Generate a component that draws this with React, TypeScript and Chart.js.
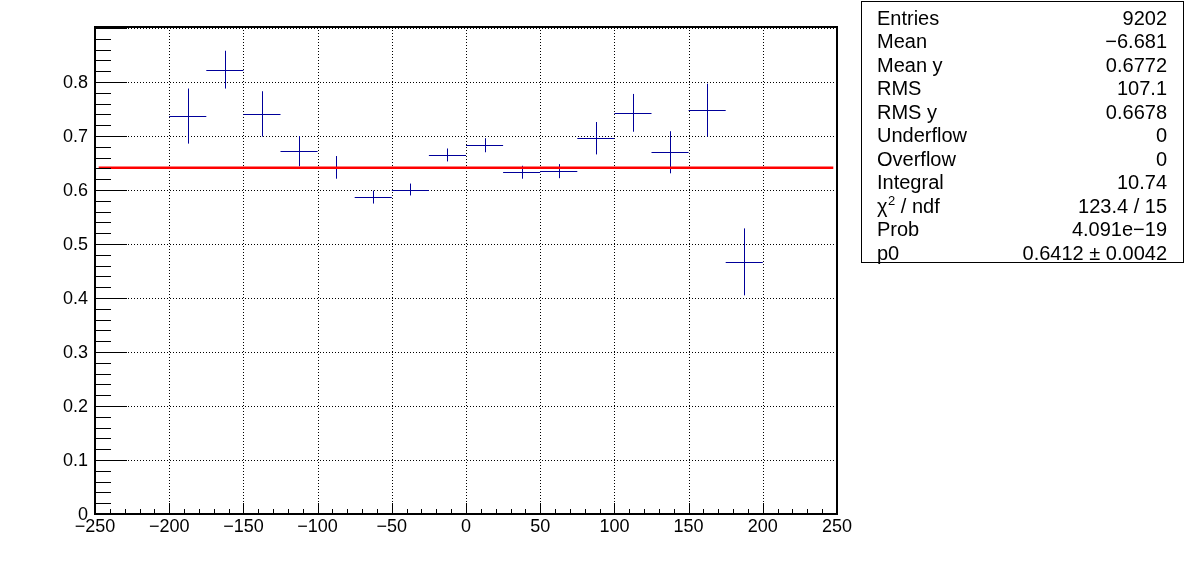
import React, { useEffect, useRef } from "react";
import { Chart, registerables } from "chart.js";

Chart.register(...registerables);

// ---- data ----
const binCenters = [-187.5, -162.5, -137.5, -112.5, -87.5, -62.5, -37.5, -12.5, 12.5, 37.5, 62.5, 87.5, 112.5, 137.5, 162.5, 187.5];
const binHalfWidth = [12.5, 12.5, 12.5, 12.5, 12.5, 12.5, 12.5, 12.5, 12.5, 12.5, 12.5, 12.5, 12.5, 12.5, 12.5, 12.5];
const binValues = [0.737, 0.823, 0.741, 0.672, 0.642, 0.587, 0.601, 0.665, 0.683, 0.633, 0.635, 0.696, 0.743, 0.670, 0.748, 0.467];
const binErrors = [0.051, 0.035, 0.042, 0.028, 0.021, 0.012, 0.011, 0.012, 0.013, 0.012, 0.013, 0.030, 0.035, 0.039, 0.049, 0.062];
const fitValue = 0.6412;
const fitRange = [-247.5, 247.5];

const xMin = -250;
const xMax = 250;
const xMajorStep = 50;
const xMinorStep = 10;
const yMin = 0;
const yMax = 0.902;
const yMajorStep = 0.1;
const yMinorStep = 0.02;

const statLabels = ["Entries", "Mean", "Mean y", "RMS", "RMS y", "Underflow", "Overflow", "Integral", "CHI2", "Prob", "p0"];
const statValues = ["9202", "\u22126.681", "0.6772", "107.1", "0.6678", "0", "0", "10.74", "123.4 / 15", "4.091e\u221219", "0.6412 \u00b1 0.0042"];

const FONT = "'Liberation Sans', Arial, Helvetica, sans-serif";
const MARK_COLOR = "#00009a";

const fmtX = (v: number) => (v < 0 ? "\u2212" + Math.abs(v) : String(v));
const fmtY = (v: number) => (Math.abs(v) < 1e-9 ? "0" : v.toFixed(1));

const rootPlugin = {
  id: "rootStyle",
  beforeDraw(chart: any) {
    const ctx = chart.ctx;
    ctx.save();
    ctx.fillStyle = "#ffffff";
    ctx.fillRect(0, 0, chart.width, chart.height);
    ctx.restore();
  },
  beforeDatasetsDraw(chart: any) {
    const ctx = chart.ctx;
    const xs = chart.scales.x;
    const ys = chart.scales.y;
    const a = chart.chartArea;
    ctx.save();
    // grid
    ctx.strokeStyle = "#000000";
    ctx.lineWidth = 1;
    ctx.setLineDash([1, 2]);
    for (let v = xMin + xMajorStep; v < xMax; v += xMajorStep) {
      const px = Math.round(xs.getPixelForValue(v)) + 0.5;
      ctx.beginPath();
      ctx.moveTo(px, a.top);
      ctx.lineTo(px, a.bottom);
      ctx.stroke();
    }
    for (let i = 1; i * yMajorStep < yMax; i++) {
      const py = Math.round(ys.getPixelForValue(i * yMajorStep)) + 0.5;
      ctx.beginPath();
      ctx.moveTo(a.left, py);
      ctx.lineTo(a.right, py);
      ctx.stroke();
    }
    ctx.setLineDash([]);
    // error bars
    ctx.strokeStyle = MARK_COLOR;
    ctx.lineWidth = 1;
    for (let i = 0; i < binCenters.length; i++) {
      const cx = Math.round(xs.getPixelForValue(binCenters[i])) + 0.5;
      const cy = Math.round(ys.getPixelForValue(binValues[i])) + 0.5;
      const x0 = xs.getPixelForValue(binCenters[i] - binHalfWidth[i]);
      const x1 = xs.getPixelForValue(binCenters[i] + binHalfWidth[i]);
      const y0 = ys.getPixelForValue(binValues[i] - binErrors[i]);
      const y1 = ys.getPixelForValue(binValues[i] + binErrors[i]);
      ctx.beginPath();
      ctx.moveTo(x0, cy);
      ctx.lineTo(x1, cy);
      ctx.moveTo(cx, y0);
      ctx.lineTo(cx, y1);
      ctx.stroke();
    }
    ctx.restore();
  },
  afterDatasetsDraw(chart: any) {
    const ctx = chart.ctx;
    const xs = chart.scales.x;
    const ys = chart.scales.y;
    const a = chart.chartArea;
    ctx.save();
    ctx.strokeStyle = "#000000";
    ctx.lineWidth = 1;
    // x ticks
    const nx = Math.round((xMax - xMin) / xMinorStep);
    for (let i = 0; i <= nx; i++) {
      const v = xMin + i * xMinorStep;
      const major = Math.abs(v / xMajorStep - Math.round(v / xMajorStep)) < 1e-9;
      const len = major ? 11 : 5;
      const px = Math.round(xs.getPixelForValue(v)) + 0.5;
      ctx.beginPath();
      ctx.moveTo(px, a.bottom);
      ctx.lineTo(px, a.bottom - len);
      ctx.stroke();
    }
    // y ticks
    const ny = Math.floor((yMax - yMin) / yMinorStep + 1e-9);
    for (let i = 0; i <= ny; i++) {
      const v = yMin + i * yMinorStep;
      const major = i % 5 === 0;
      const len = major ? 32 : 16;
      const py = Math.round(ys.getPixelForValue(v)) + 0.5;
      ctx.beginPath();
      ctx.moveTo(a.left, py);
      ctx.lineTo(a.left + len, py);
      ctx.stroke();
    }
    // frame
    ctx.lineWidth = 2;
    ctx.strokeRect(a.left, a.top, a.right - a.left, a.bottom - a.top);
    ctx.restore();
  },
  afterDraw(chart: any) {
    const ctx = chart.ctx;
    ctx.save();
    const bx = 861.5, by = 1.5, bw = 322, bh = 261;
    ctx.fillStyle = "#ffffff";
    ctx.fillRect(bx, by, bw, bh);
    ctx.strokeStyle = "#000000";
    ctx.lineWidth = 1;
    ctx.strokeRect(bx, by, bw, bh);
    ctx.fillStyle = "#000000";
    ctx.textBaseline = "alphabetic";
    const size = 20;
    for (let i = 0; i < statLabels.length; i++) {
      const base = 24.5 + i * 23.5;
      ctx.font = `${size}px ${FONT}`;
      ctx.textAlign = "left";
      const lab = statLabels[i];
      if (lab === "CHI2") {
        let x = 877;
        ctx.fillText("\u03c7", x, base);
        x += ctx.measureText("\u03c7").width;
        ctx.font = `${Math.round(size * 0.65)}px ${FONT}`;
        ctx.fillText("2", x + 0.5, base - 8);
        x += ctx.measureText("2").width + 0.5;
        ctx.font = `${size}px ${FONT}`;
        ctx.fillText(" / ndf", x, base);
      } else {
        ctx.fillText(lab, 877, base);
      }
      ctx.textAlign = "right";
      ctx.fillText(statValues[i], 1167, base);
    }
    ctx.restore();
  },
};

export default function App() {
  const ref = useRef<HTMLCanvasElement | null>(null);
  useEffect(() => {
    if (!ref.current) return;
    const chart = new Chart(ref.current, {
      type: "scatter",
      data: {
        datasets: [
          {
            label: "hist",
            data: binCenters.map((x, i) => ({ x, y: binValues[i] })),
            pointRadius: 0,
            showLine: false,
          },
          {
            label: "fit",
            type: "line",
            data: fitRange.map((x) => ({ x, y: fitValue })),
            borderColor: "#ff0000",
            borderWidth: 2.5,
            pointRadius: 0,
            fill: false,
          } as any,
        ],
      },
      options: {
        animation: false,
        responsive: false,
        devicePixelRatio: 1,
        layout: { padding: { top: 27, left: 0, right: 359, bottom: 0 } },
        plugins: { legend: { display: false }, tooltip: { enabled: false } },
        scales: {
          x: {
            type: "linear",
            min: xMin,
            max: xMax,
            grid: { display: false, drawTicks: false },
            border: { display: false },
            ticks: {
              stepSize: xMajorStep,
              autoSkip: false,
              maxRotation: 0,
              padding: 2,
              color: "#000000",
              font: { family: FONT, size: 18 },
              callback: (v: any) => fmtX(Number(v)),
            },
            afterFit: (s: any) => {
              s.height = 58;
            },
          },
          y: {
            type: "linear",
            min: yMin,
            max: yMax,
            grid: { display: false, drawTicks: false },
            border: { display: false },
            afterBuildTicks: (s: any) => {
              s.ticks = s.ticks.filter((t: any) => Math.abs(t.value * 10 - Math.round(t.value * 10)) < 1e-6);
            },
            ticks: {
              stepSize: yMajorStep,
              autoSkip: false,
              padding: 7,
              labelOffset: 1,
              color: "#000000",
              font: { family: FONT, size: 18 },
              callback: (v: any) => fmtY(Number(v)),
            },
            afterFit: (s: any) => {
              s.width = 95;
            },
          },
        },
      },
      plugins: [rootPlugin],
    });
    return () => chart.destroy();
  }, []);
  return (
    <div style={{ position: "fixed", left: 0, top: 0, width: 1196, height: 572, background: "#fff" }}>
      <canvas ref={ref} width={1196} height={572} style={{ display: "block" }} />
    </div>
  );
}
